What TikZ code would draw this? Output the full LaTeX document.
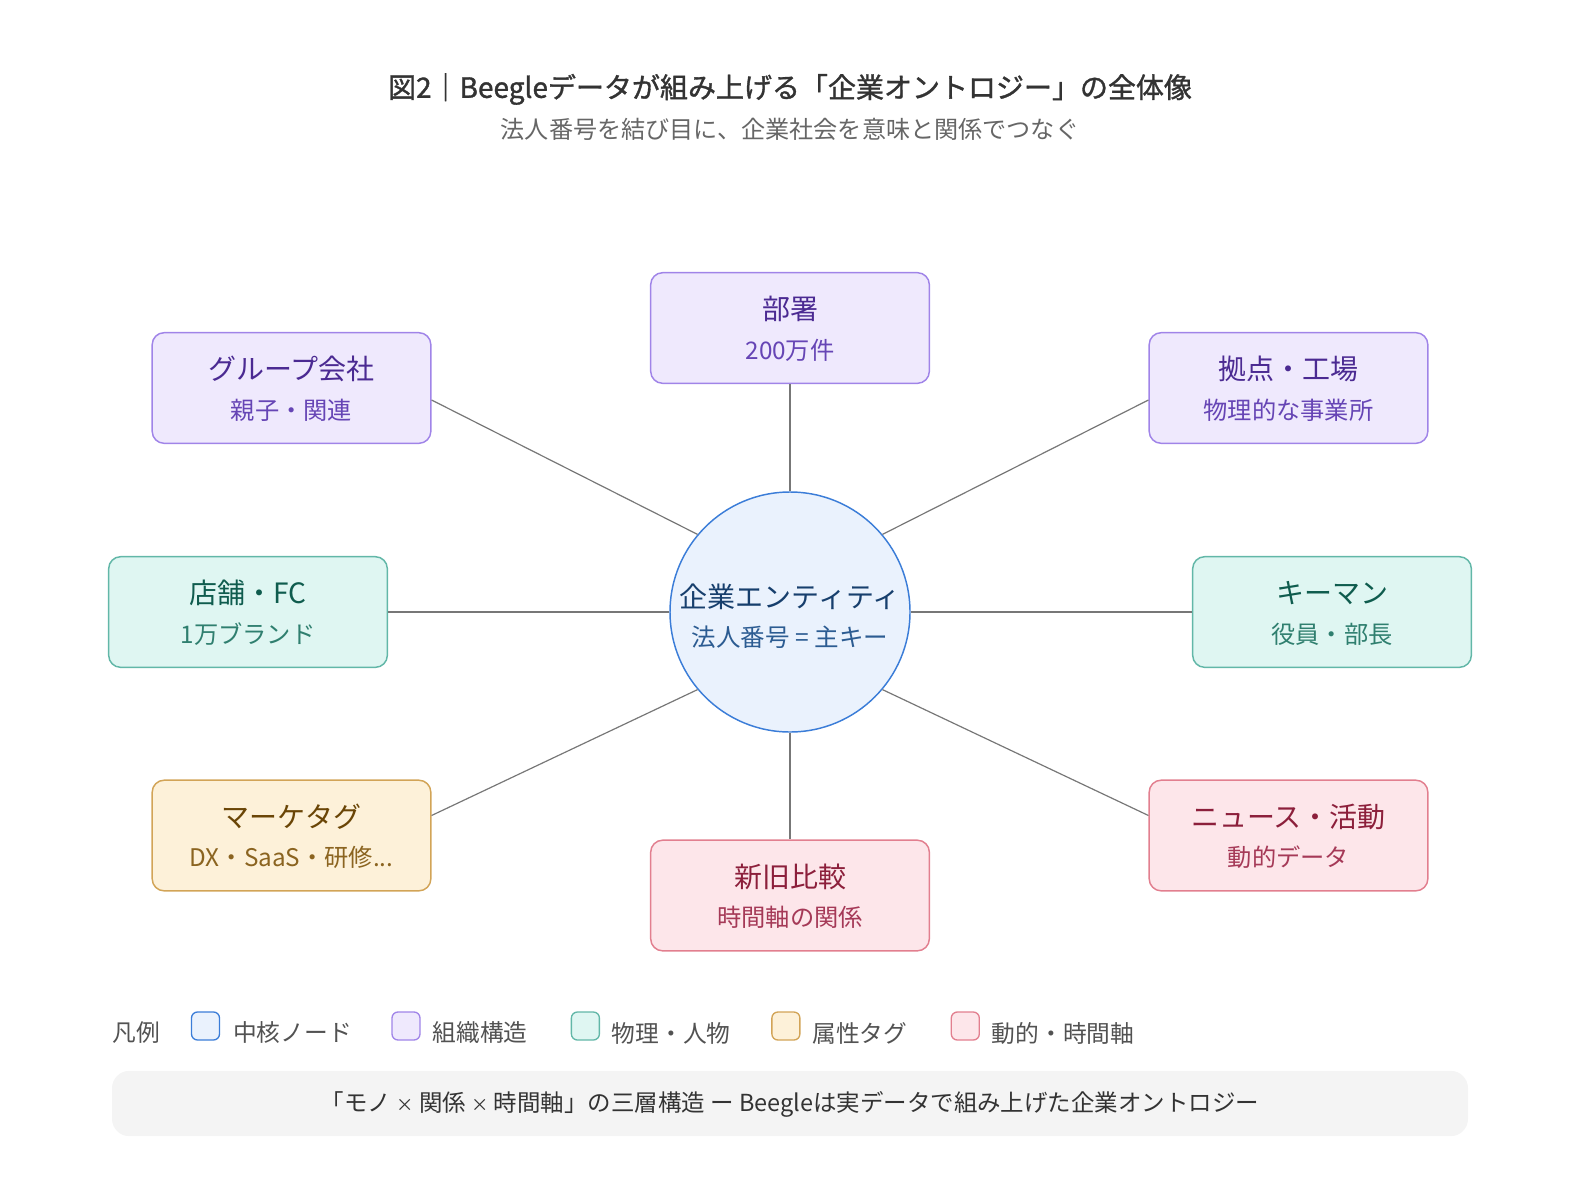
\documentclass[tikz,border=0pt]{standalone}
\usepackage{fontspec}
\setmainfont{Noto Sans CJK JP}
\newfontfamily\titlefont[FakeBold=1.2]{Noto Sans CJK JP}
\usetikzlibrary{positioning}
\definecolor{bluefill}{HTML}{EAF2FD}\definecolor{bluedraw}{HTML}{3B7DD8}
\definecolor{bluetitle}{HTML}{173F6D}\definecolor{bluesub}{HTML}{2C5C92}
\definecolor{purfill}{HTML}{EFE9FD}\definecolor{purdraw}{HTML}{A084E8}
\definecolor{purtitle}{HTML}{4B2A92}\definecolor{pursub}{HTML}{6645B5}
\definecolor{tealfill}{HTML}{DFF6F2}\definecolor{tealdraw}{HTML}{62B7A8}
\definecolor{tealtitle}{HTML}{0F5C4E}\definecolor{tealsub}{HTML}{2F7F6F}
\definecolor{yelfill}{HTML}{FDF1D9}\definecolor{yeldraw}{HTML}{D2A457}
\definecolor{yeltitle}{HTML}{6A4506}\definecolor{yelsub}{HTML}{8B6420}
\definecolor{pinkfill}{HTML}{FDE6EA}\definecolor{pinkdraw}{HTML}{E27F8F}
\definecolor{pinktitle}{HTML}{8C1F3B}\definecolor{pinksub}{HTML}{A53957}
\definecolor{linkgray}{HTML}{777777}
\definecolor{bannerfill}{HTML}{F4F4F4}
\begin{document}
\begin{tikzpicture}[x=0.75pt,y=-0.75pt,
  box/.style={draw, line width=1.1pt, rounded corners=9pt, minimum width=209pt, minimum height=83pt, inner sep=0pt},
  purbox/.style={box, draw=purdraw, fill=purfill},
  tealbox/.style={box, draw=tealdraw, fill=tealfill},
  yelbox/.style={box, draw=yeldraw, fill=yelfill},
  pinkbox/.style={box, draw=pinkdraw, fill=pinkfill},
  ttl/.style={font=\fontsize{21}{25}\selectfont, inner sep=0pt},
  sub/.style={font=\fontsize{18.2}{22}\selectfont, inner sep=0pt},
  link/.style={draw=linkgray, line width=0.9pt},
  sw/.style={draw, line width=1pt, rounded corners=4.5pt, minimum width=21pt, minimum height=21pt, inner sep=0pt},
  leg/.style={font=\fontsize{17.8}{21}\selectfont, text=black!68, anchor=west, inner sep=0pt}
]
\useasboundingbox (0,0) rectangle (1580,1184);

% title
\node[font=\titlefont\fontsize{21}{25}\selectfont, text=black!80] (title) at (790,89) {図2｜Beegleデータが組み上げる「企業オントロジー」の全体像};
\node[font=\fontsize{18.1}{22}\selectfont, text=black!60] (subtitle) at (790,129) {法人番号を結び目に、企業社会を意味と関係でつなぐ};

% center
\node[circle, draw=bluedraw, fill=bluefill, line width=1.1pt, minimum size=180pt, inner sep=0pt] (c) at (790,612) {};
\node[font=\fontsize{21}{25}\selectfont, inner sep=0pt, text=bluetitle] (ct) at (790,597) {企業エンティティ};
\node[font=\fontsize{18.4}{22}\selectfont, inner sep=0pt, text=bluesub] (cs) at (790,637) {法人番号 = 主キー};

% boxes
\node[purbox] (bu) at (790,328) {};
\node[ttl, text=purtitle] (but) at (790,309) {部署};
\node[sub, text=pursub] (bus) at (790,350) {200万件};

\node[purbox] (gr) at (291.5,388) {};
\node[ttl, text=purtitle] (grt) at (291.5,369) {グループ会社};
\node[sub, text=pursub] (grs) at (291.5,410) {親子・関連};

\node[purbox] (ky) at (1288.5,388) {};
\node[ttl, text=purtitle] (kyt) at (1288.5,369) {拠点・工場};
\node[sub, text=pursub] (kys) at (1288.5,410) {物理的な事業所};

\node[tealbox] (te) at (248,612) {};
\node[ttl, text=tealtitle] (tet) at (248,593) {店舗・FC};
\node[sub, text=tealsub] (tes) at (248,634) {1万ブランド};

\node[tealbox] (km) at (1332,612) {};
\node[ttl, text=tealtitle] (kmt) at (1332,593) {キーマン};
\node[sub, text=tealsub] (kms) at (1332,634) {役員・部長};

\node[yelbox] (mk) at (291.5,835.5) {};
\node[ttl, text=yeltitle] (mkt) at (291.5,816.5) {マーケタグ};
\node[sub, text=yelsub] (mks) at (291.5,857.5) {DX・SaaS・研修...};

\node[pinkbox] (nw) at (1288.5,835.5) {};
\node[ttl, text=pinktitle] (nwt) at (1288.5,816.5) {ニュース・活動};
\node[sub, text=pinksub] (nws) at (1288.5,857.5) {動的データ};

\node[pinkbox] (sn) at (790,895.5) {};
\node[ttl, text=pinktitle] (snt) at (790,876.5) {新旧比較};
\node[sub, text=pinksub] (sns) at (790,917.5) {時間軸の関係};

% links
\draw[link] (c.north) -- (bu.south);
\draw[link] (c.south) -- (sn.north);
\draw[link] (c.west) -- (te.east);
\draw[link] (c.east) -- (km.west);
\draw[link] (c.140) -- ([yshift=-9pt]gr.east);
\draw[link] (c.40) -- ([yshift=-9pt]ky.west);
\draw[link] (c.220) -- ([yshift=15pt]mk.east);
\draw[link] (c.320) -- ([yshift=15pt]nw.west);

% legend
\node[leg] (lg) at (112,1033) {凡例};
\node[sw, draw=bluedraw, fill=bluefill] (sw1) at (205.5,1026) {};
\node[leg] (l1) at (232.8,1033) {中核ノード};
\node[sw, draw=purdraw, fill=purfill] (sw2) at (406,1026) {};
\node[leg] (l2) at (432.3,1033) {組織構造};
\node[sw, draw=tealdraw, fill=tealfill] (sw3) at (585.4,1026) {};
\node[leg] (l3) at (611.7,1033) {物理・人物};
\node[sw, draw=yeldraw, fill=yelfill] (sw4) at (785.9,1026) {};
\node[leg] (l4) at (812.2,1033) {属性タグ};
\node[sw, draw=pinkdraw, fill=pinkfill] (sw5) at (965.3,1026) {};
\node[leg] (l5) at (991.6,1033) {動的・時間軸};

% banner
\node[fill=bannerfill, rounded corners=13pt, minimum width=1017pt, minimum height=49pt, inner sep=0pt] (bn) at (790,1103.5) {};
\node[font=\fontsize{17.6}{21}\selectfont, text=black!80, inner sep=0pt] (bnt) at (790,1104) {「モノ {\fontsize{13}{15}\selectfont ×} 関係 {\fontsize{13}{15}\selectfont ×} 時間軸」の三層構造 ー Beegleは実データで組み上げた企業オントロジー};
\end{tikzpicture}
\end{document}
